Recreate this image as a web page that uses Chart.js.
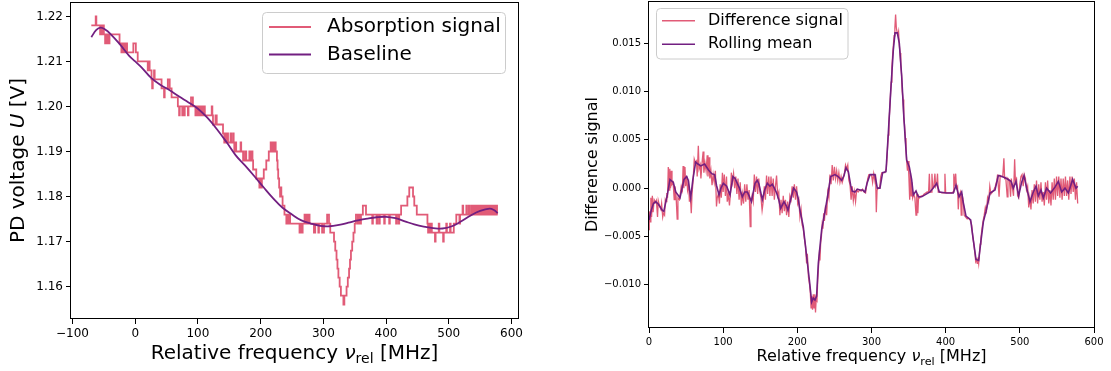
<!DOCTYPE html>
<html>
<head>
<meta charset="utf-8">
<script src="https://cdn.jsdelivr.net/npm/chart.js@4.4.0/dist/chart.umd.min.js"></script>
<style>
  html, body { margin: 0; padding: 0; background: #fff; }
  #wrap { position: relative; width: 1111px; height: 371px; overflow: hidden; }
  canvas { position: absolute; top: 0; }
  #absorption-chart { left: 0; }
  #difference-chart { left: 556px; }
</style>
</head>
<body>
<div id="wrap">
  <canvas id="absorption-chart" width="555" height="371"></canvas>
  <canvas id="difference-chart" width="555" height="371"></canvas>
</div>
<script>
// --- left panel: raw photodiode signal (quantised steps) ---
const absFreq = [
  -70, -63, -62, -56, -55, -53, -52, -50, -48, -47, -45, -44, -42, -41, -25, -22, -21, -19, -18, -16, -15, -13, -3, 1, 4,
  20, 22, 23, 26, 27, 28, 30, 31, 42, 46, 47, 52, 55, 58, 68, 70, 71, 75, 76, 78, 79, 84, 85, 89, 92,
  96, 97, 99, 100, 102, 103, 105, 106, 108, 109, 111, 122, 123, 124, 128, 130, 140, 142, 143, 145, 146, 148,
  152, 153, 156, 157, 158, 159, 161, 168, 169, 172, 175, 177, 182, 184, 185, 187, 188, 193, 198, 199, 201, 202,
  205, 209, 213, 216, 218, 219, 221, 222, 224, 226, 227, 228, 229.5, 231, 232, 233, 235, 238, 241, 243, 244, 246, 247,
  262, 263, 265, 267, 270, 272, 273, 275, 276, 278, 285, 287, 292, 293, 298, 301, 306, 309, 311,
  317, 319, 321, 322.5, 324, 326, 328, 332, 333.5, 337, 339, 341, 342.5, 344, 346, 348, 350, 352,
  355, 357, 358, 360, 363, 368, 378, 379, 385, 386, 389, 390, 397, 398, 405, 406, 416, 417, 420, 421,
  424, 434, 437, 443, 445, 449, 466, 467, 468, 470, 471, 473, 478, 479, 484, 485, 491, 492, 496, 497, 502, 503, 508,
  512, 517, 518, 522, 523, 528, 529, 532, 533, 536, 538, 540, 541, 543, 545, 547, 549, 551, 553, 555, 557,
  559, 561, 563, 565, 567, 569, 571, 573, 575, 577, 578
];
const absVoltage = [
  1.218, 1.220, 1.218, 1.216, 1.218, 1.216, 1.218, 1.216, 1.214, 1.216, 1.214, 1.216, 1.214, 1.216, 1.214, 1.212, 1.214, 1.212, 1.214, 1.212, 1.214, 1.212, 1.214, 1.212, 1.210,
  1.208, 1.210, 1.208, 1.206, 1.204, 1.206, 1.208, 1.206, 1.204, 1.202, 1.204, 1.206, 1.204, 1.202, 1.200, 1.198, 1.200, 1.198, 1.200, 1.198, 1.200, 1.198, 1.200, 1.202, 1.200,
  1.198, 1.200, 1.198, 1.200, 1.198, 1.200, 1.198, 1.200, 1.198, 1.200, 1.198, 1.200, 1.198, 1.196, 1.198, 1.196, 1.194, 1.192, 1.194, 1.192, 1.194, 1.192,
  1.194, 1.192, 1.194, 1.192, 1.190, 1.192, 1.190, 1.192, 1.190, 1.188, 1.190, 1.188, 1.190, 1.188, 1.190, 1.188, 1.186, 1.184, 1.182, 1.184, 1.182, 1.184,
  1.186, 1.188, 1.190, 1.192, 1.190, 1.192, 1.190, 1.192, 1.190, 1.188, 1.186, 1.184, 1.182, 1.180, 1.182, 1.180, 1.178, 1.176, 1.174, 1.176, 1.174, 1.176, 1.174,
  1.172, 1.174, 1.172, 1.174, 1.176, 1.174, 1.176, 1.174, 1.176, 1.174, 1.172, 1.174, 1.172, 1.174, 1.172, 1.174, 1.176, 1.174, 1.172,
  1.170, 1.168, 1.166, 1.164, 1.162, 1.160, 1.158, 1.156, 1.158, 1.160, 1.162, 1.164, 1.166, 1.168, 1.170, 1.172, 1.174, 1.176,
  1.174, 1.176, 1.174, 1.176, 1.178, 1.176, 1.174, 1.176, 1.174, 1.176, 1.174, 1.176, 1.174, 1.176, 1.174, 1.176, 1.174, 1.176, 1.174, 1.176,
  1.178, 1.180, 1.182, 1.180, 1.178, 1.176, 1.174, 1.172, 1.174, 1.172, 1.174, 1.172, 1.170, 1.172, 1.174, 1.172, 1.170, 1.172, 1.174, 1.172, 1.174, 1.172, 1.174,
  1.176, 1.174, 1.176, 1.178, 1.176, 1.178, 1.176, 1.178, 1.176, 1.178, 1.176, 1.178, 1.176, 1.178, 1.176, 1.178, 1.176, 1.178, 1.176, 1.178, 1.176,
  1.178, 1.176, 1.178, 1.176, 1.178, 1.176, 1.178, 1.176, 1.178, 1.176, 1.176
];

const baseFreq = [
  -70, -62, -55, -48, -40, -25, -10, 0, 10, 25, 40, 55, 70, 85, 100, 115, 130, 145, 160, 175, 190, 205, 220, 235,
  250, 265, 280, 295, 310, 325, 340, 355, 370, 385, 400, 415, 430, 445, 460, 475, 490, 505, 520, 535, 550, 565, 572, 578
];
const baseVoltage = [
  1.2154, 1.2170, 1.2175, 1.2171, 1.2162, 1.2139, 1.2113, 1.2100, 1.2087, 1.2064, 1.2048, 1.2036, 1.2022, 1.2009,
  1.1995, 1.1975, 1.1950, 1.1922, 1.1892, 1.1869, 1.1845, 1.1820, 1.1796, 1.1775, 1.1760, 1.1747, 1.1740, 1.1735,
  1.1734, 1.1737, 1.1742, 1.1747, 1.1751, 1.1754, 1.1755, 1.1752, 1.1745, 1.1738, 1.1733, 1.1730, 1.1729, 1.1734,
  1.1745, 1.1758, 1.1768, 1.1773, 1.1770, 1.1763
];

// --- right panel: difference signal and rolling mean ---
const diffFreq = [
  0, 0.3, 1.5, 2.5, 3.5, 4.5, 5.5, 7, 9, 10, 11.5, 12.5, 14, 16, 17, 18.5, 19.5, 21, 22, 23, 24, 25, 26, 27, 28, 29, 30, 31,
  32.5, 34, 35, 36.5, 38, 39, 41, 42.5, 43.5, 45, 46, 47, 48.5, 49.5, 51, 52, 53.5, 54.5, 55.5, 57, 58, 59.5, 61, 62.5,
  64, 65, 66.5, 67.5, 69, 70, 71.5, 73, 74, 75.5, 77, 78.5, 79.5, 81, 82, 83.5, 85, 86.5, 88, 89.5, 91, 92, 93.5, 95,
  96, 97.5, 99, 100, 101.5, 103, 104.5, 105.5, 107, 108.5, 110, 111, 112.5, 114, 115.5, 117, 118.5, 120, 121.5, 123,
  124.5, 126, 127.5, 129, 130.5, 132, 133.5, 135, 136.5, 137.5, 139, 140.5, 142, 143.5, 145, 146.5, 148, 149.5, 151,
  152.5, 154, 155.5, 157, 158.5, 160, 161.5, 163, 164.5, 166, 167.5, 169, 170.5, 172, 173.5, 175, 176.5, 178, 179.5,
  181, 182.5, 184, 185.5, 187, 188.5, 190, 191.5, 193, 194.5, 196, 197.5, 199, 200.5, 202, 203.5, 205, 206.5, 208,
  209.5, 211, 212.5, 213.5, 215, 216.5, 217.5, 218.5, 219.5, 220.5, 221.5, 222.5, 223.5, 224.5, 225.5, 226.5, 227.5,
  228.5, 229.5, 230.5, 231.5, 232.5, 233.5, 234.5, 235.5, 236.5, 238, 239.5, 241, 242.5, 244, 245.5, 247, 248.5, 250,
  251.5, 253, 254.5, 256, 257.5, 259, 260.5, 262, 263.5, 265, 266.5, 268, 269.5, 271, 272.5, 274, 275.5, 277, 278.5,
  280, 282, 284, 286, 288, 290, 292, 293.5, 295, 296.5, 298, 300, 301.5, 303, 304.5, 305.5, 306.5, 307.5, 309, 311,
  312.5, 314, 316, 318, 320, 321.5, 322.5, 323.5, 324.5, 325.5, 326.5, 327.5, 328.5, 329.5, 330.5, 331.5, 332.5, 333.5,
  334.5, 335.5, 336.5, 337.5, 338.5, 339.5, 340.5, 341.5, 342.5, 343.5, 344.5, 345.5, 346.5, 347.5, 348.5, 349.5,
  350.5, 351.5, 352.5, 353.5, 354.5, 355.5, 357, 358.5, 360, 361, 362.5, 363.5, 365, 367, 369, 371, 373, 375, 377,
  378, 379, 380.5, 381.5, 382.5, 384, 385.5, 386.5, 388, 389, 390, 392, 395, 398, 399, 400, 404, 408, 410, 411, 412,
  413.5, 414.5, 416, 417, 418, 420, 421, 422, 423.5, 425, 427, 429, 431, 433, 435, 436.5, 438, 439.5, 440.5, 441.5,
  442.5, 443.5, 444.5, 445.5, 446.5, 447.5, 449, 450.5, 452, 453.5, 455, 456.5, 458, 459.5, 461, 463, 465, 467, 469,
  470, 472, 473.5, 475, 477, 478.5, 479.5, 481, 483, 484, 486, 487.5, 488.5, 490, 491.5, 493, 494, 495.5, 497, 498.5,
  500, 501.5, 503, 504.5, 506, 507.5, 509, 510.5, 512, 513.5, 515, 516.5, 518, 519.5, 521, 522.5, 524, 525.5, 527,
  528.5, 530, 531.5, 533, 534.5, 536, 537.5, 539, 540.5, 542, 543.5, 545, 546.5, 548, 549.5, 551, 552.5, 554, 555.5,
  557, 558.5, 560, 561.5, 563, 564.5, 566, 567.5, 569, 570.5, 572, 573.5, 575, 576.5, 578
];
const diffSignal = [
  -0.0043, -0.0024, -0.0035, -0.0010, -0.0030, -0.0008, -0.0025, -0.0012, -0.0015, -0.0013, -0.0030, -0.0013, -0.0018,
  -0.0022, -0.0016, -0.0030, -0.0026, -0.0028, -0.0012, -0.0014, -0.0005, -0.0010, 0.0022, -0.0002, 0.0020, 0.0000,
  0.0018, 0.0004,
  0.0006, -0.0012, 0.0002, -0.0008, -0.0032, -0.0010, -0.0012, -0.0004, 0.0002, -0.0002, 0.0023, 0.0000, 0.0022, 0.0002,
  0.0012, -0.0002, 0.0004, -0.0014, -0.0004, -0.0026, -0.0006, 0.0008, 0.0030, 0.0026,
  0.0028, 0.0012, 0.0044, 0.0020, 0.0024, 0.0010, 0.0026, 0.0038, 0.0016, 0.0026, 0.0018, 0.0034, 0.0012, 0.0032,
  0.0010, 0.0018, 0.0003, 0.0014, 0.0006, 0.0018, -0.0019, -0.0010, -0.0006, -0.0016,
  0.0004, -0.0010, 0.0016, -0.0004, 0.0014, -0.0008, 0.0012, -0.0014, -0.0006, -0.0018, -0.0004, 0.0016, 0.0006, 0.0015,
  0.0000, 0.0012, -0.0006, 0.0010, -0.0012, 0.0006,
  -0.0018, -0.0006, -0.0016, 0.0004, -0.0014, 0.0004, -0.0012, -0.0002, -0.0040, -0.0016, -0.0008, -0.0014, 0.0014,
  -0.0004, 0.0012, -0.0006, 0.0010, -0.0004, -0.0010,
  -0.0023, -0.0014, 0.0002, -0.0012, 0.0013, -0.0006, 0.0012, -0.0008, 0.0012, -0.0008, 0.0010, -0.0012, 0.0002, 0.0013,
  -0.0008, -0.0004, -0.0028, -0.0012, -0.0026,
  -0.0008, -0.0024, -0.0012, -0.0028, -0.0014, -0.0030, -0.0008, -0.0012, 0.0002, -0.0010, 0.0004, -0.0012, 0.0002,
  -0.0016, -0.0012, -0.0030, -0.0022, -0.0038, -0.0042,
  -0.0052, -0.0060, -0.0078, -0.0068, -0.0092, -0.0100, -0.0108, -0.0124, -0.0112, -0.0126, -0.0110, -0.0124, -0.0110,
  -0.0129, -0.0114, -0.0116, -0.0095,
  -0.0082, -0.0070, -0.0075, -0.0056, -0.0050, -0.0038, -0.0042, -0.0026, -0.0034, -0.0018, -0.0028, -0.0004, -0.0010,
  0.0014, 0.0004, 0.0024, 0.0008, 0.0022,
  0.0010, 0.0018, 0.0008, 0.0016, 0.0006, 0.0012, 0.0006, 0.0010, 0.0016, 0.0024, 0.0020, 0.0024, 0.0008, 0.0004,
  -0.0012, 0.0002, -0.0013, -0.0004, -0.0014,
  -0.0002, -0.0004, -0.0002, -0.0003, -0.0001, -0.0004, -0.0005, 0.0003, 0.0010, 0.0014, 0.0014, 0.0014, 0.0006, 0.0015,
  0.0008, 0.0014, -0.0025, -0.0002, 0.0000, 0.0000,
  0.0012, 0.0016, 0.0016, 0.0016, 0.0020, 0.0040, 0.0055, 0.0068, 0.0080, 0.0095, 0.0110, 0.0125, 0.0138, 0.0148,
  0.0158, 0.0166, 0.0180, 0.0166,
  0.0162, 0.0158, 0.0162, 0.0148, 0.0140, 0.0128, 0.0118, 0.0100, 0.0092, 0.0074, 0.0066, 0.0052, 0.0040, 0.0027,
  0.0018, 0.0028,
  0.0010, -0.0012, 0.0016, -0.0008, 0.0006, -0.0010, -0.0006, -0.0010, -0.0028, -0.0006, -0.0026, -0.0008, -0.0010,
  -0.0008, -0.0008, -0.0006, -0.0005, -0.0004, -0.0004,
  0.0015, -0.0004, -0.0004, 0.0015, 0.0000, 0.0001, 0.0015, 0.0002, 0.0005, 0.0015, -0.0004, -0.0004, -0.0005, -0.0005,
  0.0015, -0.0005, -0.0005, -0.0005, -0.0004, 0.0015, 0.0002,
  0.0015, 0.0000, 0.0002, -0.0022, -0.0008, -0.0004, -0.0028, -0.0006, -0.0012, -0.0028, -0.0030, -0.0032, -0.0031,
  -0.0033, -0.0038, -0.0050, -0.0058, -0.0068, -0.0076, -0.0074,
  -0.0078, -0.0072, -0.0078, -0.0068, -0.0058, -0.0052, -0.0042, -0.0034, -0.0028, -0.0020, -0.0024, -0.0010, -0.0014,
  0.0002, -0.0006, -0.0004, -0.0002, 0.0002, 0.0008,
  0.0014, -0.0009, 0.0013, 0.0012, 0.0012, 0.0031, 0.0010, 0.0011, -0.0009, 0.0010, 0.0008, -0.0009, 0.0010, 0.0000,
  -0.0008, 0.0030, 0.0008, 0.0010, -0.0008, -0.0010,
  0.0004, 0.0012, 0.0014, 0.0002, 0.0014, 0.0010, -0.0002, 0.0002, -0.0020, -0.0010, -0.0022, -0.0002, -0.0016, 0.0004,
  -0.0014, 0.0008, -0.0016, 0.0004, -0.0012,
  0.0006, -0.0014, -0.0004, -0.0018, 0.0006, -0.0012, 0.0008, -0.0016, -0.0002, -0.0018, 0.0006, -0.0012, 0.0010,
  -0.0012, 0.0012, -0.0008, 0.0012, -0.0010, 0.0010,
  -0.0012, 0.0010, -0.0008, 0.0012, -0.0008, 0.0008, -0.0012, 0.0012, -0.0006, 0.0012, -0.0004, 0.0010, -0.0012, 0.0006,
  -0.0016
];

const meanFreq = [
  0, 3, 6, 9, 13, 18, 20, 24.7, 28.3, 32.8, 36, 41.8, 47.2, 50.8, 53, 56.2, 59, 62.9, 66, 69.7, 75, 80, 84.5, 88.5, 91,
  94.4, 97, 100.2, 104.7, 109.2, 113.2, 116, 119, 122, 125.8, 129, 132.6, 135, 138, 143, 146, 148.3, 152.8, 156, 159.5,
  163, 166.3, 169, 172.1, 175, 177.5, 180, 182, 185.6, 187.4, 191, 195, 199, 201, 203.6, 208, 212.6, 216.2, 219.3,
  221.5, 223.8, 226, 228.3, 232.8, 237.3, 241.8, 244.9, 250.8, 255, 259.8, 263, 265.6, 268.8, 271.9, 274, 277.7, 281,
  284.5, 288, 291.2, 294, 298, 304.7, 307.8, 311.4, 315, 319.5, 322.7, 325.8, 329.4, 331.7, 334.8, 337.5, 340.7, 343.8,
  347.4, 351, 354.1, 356.4, 360, 363.1, 367.6, 372, 378.9, 383, 387.9, 391.4, 401.3, 410.3, 413.9, 418, 421.6, 423,
  427.4, 433.7, 437.3, 440.9, 444.5, 447.2, 450.8, 454.4, 459.8, 466.5, 471, 476, 482.2, 488.1, 491.2, 494.8, 498.4,
  502.4, 505.6, 509.2, 513.7, 518.2, 521.8, 524.9, 528.5, 531.7, 536.1, 541.5, 547.4, 551.9, 556.4, 560.9, 565.4,
  571.2, 575.7, 578
];
const meanSignal = [
  -0.0033, -0.0023, -0.0016, -0.0014, -0.0017, -0.0023, -0.0024, -0.0007, 0.0009, 0.0006, -0.0004, -0.0010, 0.0009,
  0.0012, 0.0008, -0.0010, 0.0008, 0.0027, 0.0025, 0.0023, 0.0025, 0.0019, 0.0015, 0.0014, 0.0003, -0.0007, 0.0000,
  0.0005, 0.0002, -0.0007, 0.0012, 0.0010, 0.0005, 0.0000, -0.0009, -0.0004, -0.0004, -0.0008, -0.0014, 0.0005,
  0.0008, 0.0004, -0.0012, -0.0002, 0.0005, 0.0002, 0.0004, 0.0000, -0.0005, -0.0012, -0.0021, -0.0017, -0.0014,
  -0.0019, -0.0023, -0.0012, 0.0000, -0.0004, -0.0010, -0.0023, -0.0040, -0.0071, -0.0095, -0.0118, -0.0114, -0.0116,
  -0.0112, -0.0078, -0.0043, -0.0024, -0.0004, 0.0012, 0.0014, 0.0012, 0.0008, 0.0013, 0.0021, 0.0017, 0.0003,
  -0.0003, -0.0004, -0.0001, -0.0002, -0.0002, -0.0004, 0.0005, 0.0014, 0.0014, 0.0000, 0.0000, 0.0016, 0.0017,
  0.0057, 0.0099, 0.0143, 0.0161, 0.0161, 0.0150, 0.0116, 0.0071, 0.0029, 0.0022, 0.0009, -0.0007, -0.0003, -0.0009,
  -0.0009, -0.0007, -0.0004, 0.0000, 0.0005, -0.0004, -0.0005, -0.0005, 0.0003, -0.0009, -0.0004, -0.0012, -0.0029,
  -0.0033, -0.0054, -0.0074, -0.0075, -0.0057, -0.0035, -0.0024, -0.0005, -0.0002, 0.0013, 0.0012, 0.0010, 0.0007,
  0.0000, 0.0007, -0.0008, 0.0006, 0.0013, 0.0000, -0.0014, -0.0004, 0.0002, -0.0008, -0.0002, -0.0010, 0.0000,
  -0.0005, 0.0001, 0.0007, -0.0004, 0.0000, -0.0005, 0.0009, 0.0000, 0.0002
];

// tick positions
const leftFreqTicks = [-100, 0, 100, 200, 300, 400, 500, 600];
const voltageTicks = [1.16, 1.17, 1.18, 1.19, 1.20, 1.21, 1.22];
const rightFreqTicks = [0, 100, 200, 300, 400, 500, 600];
const diffTicks = [-0.010, -0.005, 0.000, 0.005, 0.010, 0.015];

const FONT = '"DejaVu Sans", sans-serif';
const RED = 'rgba(222, 73, 104, 0.9)';
const PURPLE = '#721f81';

function toPoints(xs, ys) {
    return xs.map((x, i) => ({x: x, y: ys[i]}));
}

function signed(v, digits) {
    const s = Math.abs(v).toFixed(digits);
    return (v < -1e-9 ? '\u2212' : '') + s;
}

function drawRich(ctx, parts, x, y, rotate) {
    ctx.save();
    ctx.translate(x, y);
    if (rotate) ctx.rotate(-Math.PI / 2);
    let total = 0;
    for (const p of parts) {
        ctx.font = p.font;
        total += ctx.measureText(p.text).width;
    }
    let cx = -total / 2;
    ctx.textBaseline = 'alphabetic';
    ctx.textAlign = 'left';
    ctx.fillStyle = '#000';
    for (const p of parts) {
        ctx.font = p.font;
        ctx.fillText(p.text, cx, p.dy || 0);
        cx += ctx.measureText(p.text).width;
    }
    ctx.restore();
}

function freqTitle(size) {
    return [
        {text: 'Relative frequency ', font: size + 'px ' + FONT},
        {text: '\u03bd', font: 'italic ' + size + 'px ' + FONT},
        {text: 'rel', font: (size * 0.7) + 'px ' + FONT, dy: size * 0.22},
        {text: ' [MHz]', font: size + 'px ' + FONT}
    ];
}

function drawLegend(ctx, box, entries) {
    ctx.save();
    ctx.beginPath();
    ctx.roundRect(box.x, box.y, box.w, box.h, 4);
    ctx.fillStyle = 'rgba(255,255,255,0.8)';
    ctx.fill();
    ctx.strokeStyle = '#cccccc';
    ctx.lineWidth = 1;
    ctx.stroke();
    ctx.font = box.size + 'px ' + FONT;
    ctx.textBaseline = 'middle';
    ctx.fillStyle = '#000';
    for (const e of entries) {
        ctx.beginPath();
        ctx.moveTo(box.handleX0, e.y);
        ctx.lineTo(box.handleX1, e.y);
        ctx.strokeStyle = e.color;
        ctx.lineWidth = e.width;
        ctx.stroke();
        ctx.fillText(e.label, box.textX, e.y);
    }
    ctx.restore();
}

function decoPlugin(draw) {
    return {
        id: 'deco',
        afterDraw(chart) {
            const ctx = chart.ctx;
            const a = chart.chartArea;
            ctx.save();
            ctx.strokeStyle = '#000';
            ctx.lineWidth = 1;
            ctx.strokeRect(Math.round(a.left) - 0.5, Math.round(a.top) + 0.5,
                Math.round(a.right - a.left) + 1, Math.round(a.bottom - a.top) - 1);
            ctx.restore();
            draw(ctx, a);
        }
    };
}

function axis(min, max, ticks, fmt, fontSize, fit) {
    return {
        type: 'linear',
        min: min,
        max: max,
        afterBuildTicks: (s) => { s.ticks = ticks.map((v) => ({value: v})); },
        afterFit: fit,
        grid: {display: true, drawOnChartArea: false, drawTicks: true, tickLength: 5, tickColor: '#000', tickWidth: 1},
        border: {display: false},
        ticks: {
            color: '#000',
            font: {family: FONT, size: fontSize},
            padding: 3,
            maxRotation: 0,
            autoSkip: false,
            callback: fmt
        }
    };
}

// fixed axis sizes so the plot box lands where the original one is
function fitY(width) {
    return (s) => { s.width = width; s.paddingTop = 0; s.paddingBottom = 0; };
}
function fitX(height) {
    return (s) => { s.height = height; s.paddingLeft = 0; s.paddingRight = 0; };
}

Chart.defaults.font.family = FONT;

new Chart(document.getElementById('absorption-chart'), {
    type: 'line',
    data: {
        datasets: [{
            label: 'Absorption signal',
            data: toPoints(absFreq, absVoltage),
            borderColor: RED,
            borderWidth: 1.8,
            pointRadius: 0,
            stepped: true,
            order: 2
        }, {
            label: 'Baseline',
            data: toPoints(baseFreq, baseVoltage),
            borderColor: PURPLE,
            borderWidth: 1.8,
            pointRadius: 0,
            tension: 0.4,
            order: 1
        }]
    },
    options: {
        responsive: false,
        animation: false,
        devicePixelRatio: 1,
        layout: {padding: {top: 2, right: 37, left: 0, bottom: 0}},
        scales: {
            x: axis(-102.4, 610.4, leftFreqTicks, (v) => signed(v, 0), 12, fitX(52)),
            y: axis(1.1528, 1.2232, voltageTicks, (v) => v.toFixed(2), 12, fitY(71))
        },
        plugins: {legend: {display: false}, tooltip: {enabled: false}}
    },
    plugins: [decoPlugin((ctx, a) => {
        drawRich(ctx, freqTitle(20), (a.left + a.right) / 2, 359);
        drawRich(ctx, [
            {text: 'PD voltage ', font: '20px ' + FONT},
            {text: 'U', font: 'italic 20px ' + FONT},
            {text: ' [V]', font: '20px ' + FONT}
        ], 24, (a.top + a.bottom) / 2, true);
        drawLegend(ctx, {x: 262.5, y: 12.5, w: 243, h: 61, size: 20, handleX0: 269, handleX1: 311, textX: 327}, [
            {label: 'Absorption signal', color: RED, width: 1.8, y: 27},
            {label: 'Baseline', color: PURPLE, width: 1.8, y: 54.5}
        ]);
    })]
});

new Chart(document.getElementById('difference-chart'), {
    type: 'line',
    data: {
        datasets: [{
            label: 'Difference signal',
            data: toPoints(diffFreq, diffSignal),
            borderColor: RED,
            borderWidth: 1.3,
            pointRadius: 0,
            order: 2
        }, {
            label: 'Rolling mean',
            data: toPoints(meanFreq, meanSignal),
            borderColor: PURPLE,
            borderWidth: 1.6,
            pointRadius: 0,
            order: 1
        }]
    },
    options: {
        responsive: false,
        animation: false,
        devicePixelRatio: 1,
        layout: {padding: {top: 1, right: 17, left: 0, bottom: 0}},
        scales: {
            x: axis(0, 600, rightFreqTicks, (v) => signed(v, 0), 10, fitX(43)),
            y: axis(-0.0145, 0.0194, diffTicks, (v) => signed(v, 3), 10, fitY(93))
        },
        plugins: {legend: {display: false}, tooltip: {enabled: false}}
    },
    plugins: [decoPlugin((ctx, a) => {
        drawRich(ctx, freqTitle(16), (a.left + a.right) / 2, 361);
        drawRich(ctx, [{text: 'Difference signal', font: '16px ' + FONT}], 40.5, (a.top + a.bottom) / 2, true);
        drawLegend(ctx, {x: 100.5, y: 8.5, w: 191.5, h: 50.5, size: 16, handleX0: 106, handleX1: 139, textX: 152}, [
            {label: 'Difference signal', color: RED, width: 1.6, y: 20.7},
            {label: 'Rolling mean', color: PURPLE, width: 1.6, y: 44.3}
        ]);
    })]
});
</script>
</body>
</html>
